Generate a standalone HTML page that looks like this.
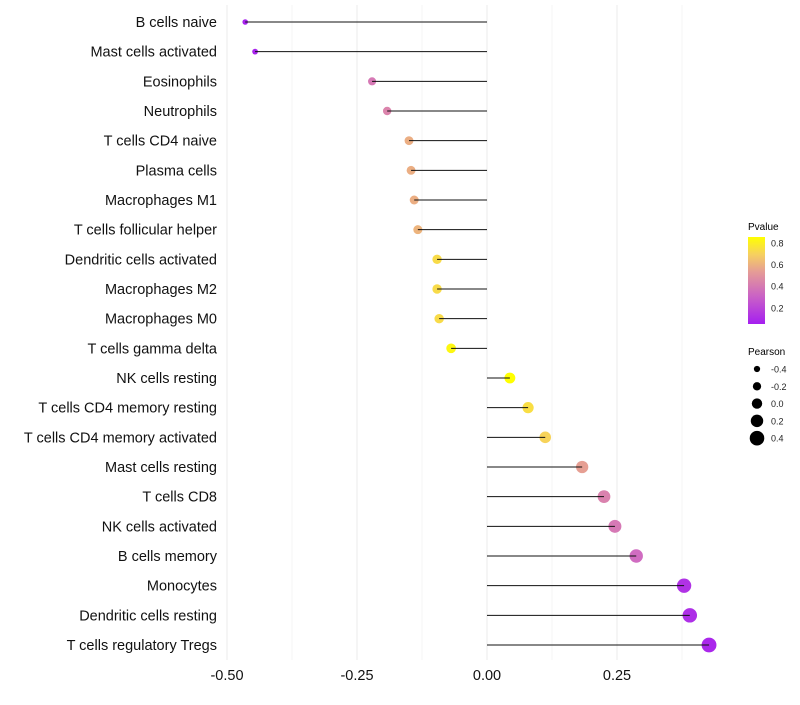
<!DOCTYPE html>
<html><head><meta charset="utf-8"><style>
body{margin:0;background:#fff;}
svg text{font-family:"Liberation Sans",sans-serif;}
</style></head><body>
<svg id="chart" width="800" height="700" xmlns="http://www.w3.org/2000/svg">
<defs><linearGradient id="pg" x1="0" y1="1" x2="0" y2="0">
<stop offset="0" stop-color="#a51ff0"/><stop offset="0.3" stop-color="#c85ec8"/><stop offset="0.6" stop-color="#e59c96"/><stop offset="0.8" stop-color="#f6d060"/><stop offset="1" stop-color="#ffff00"/></linearGradient></defs>
<g id="grid"></g><g id="dots"></g><g id="marks"></g><g id="labels"></g><g id="xticks"></g>
<g>
<text x="748" y="230" font-size="10">Pvalue</text>
<rect x="748" y="237" width="17" height="87" fill="url(#pg)"/>
<g id="cbticks"></g></g>
<g>
<text x="748" y="355" font-size="10">Pearson</text>
<g id="sizeleg"></g></g>
</svg>
<script>
const categories=["B cells naive","Mast cells activated","Eosinophils","Neutrophils","T cells CD4 naive","Plasma cells","Macrophages M1","T cells follicular helper","Dendritic cells activated","Macrophages M2","Macrophages M0","T cells gamma delta","NK cells resting","T cells CD4 memory resting","T cells CD4 memory activated","Mast cells resting","T cells CD8","NK cells activated","B cells memory","Monocytes","Dendritic cells resting","T cells regulatory  Tregs"];
const pearson=[-0.465,-0.446,-0.221,-0.192,-0.150,-0.146,-0.140,-0.133,-0.096,-0.096,-0.092,-0.069,0.044,0.079,0.112,0.183,0.225,0.246,0.287,0.379,0.390,0.427];
const pvalue=[0.04,0.05,0.38,0.43,0.6,0.6,0.6,0.62,0.75,0.75,0.75,0.85,0.88,0.76,0.72,0.55,0.42,0.38,0.32,0.1,0.09,0.06];
const xTicks=[-0.5,-0.25,0,0.25];
const xTickLabels=["-0.50","-0.25","0.00","0.25"];
const cbTicks=[0.2,0.4,0.6,0.8];
const sizeTicks=[-0.4,-0.2,0.0,0.2,0.4];
const sizeTickLabels=["-0.4","-0.2","0.0","0.2","0.4"];
const NS="http://www.w3.org/2000/svg";
const x=v=>487+v*520;
const y=i=>22+i*(623/21);
const r=v=>Math.max(2.2,5.2+5.2*v);
const cy=p=>324-(p-0.05)*108;
function mk(tag,at,parent){const e=document.createElementNS(NS,tag);for(const k in at)e.setAttribute(k,at[k]);document.getElementById(parent).appendChild(e);return e;}
function lerp(a,b,t){return a.map((v,i)=>Math.round(v+(b[i]-v)*t));}
const stops=[[0,[165,31,240]],[0.3,[205,100,200]],[0.6,[229,156,150]],[0.8,[246,208,96]],[1,[255,255,0]]];
function col(p){const t=Math.min(1,Math.max(0,(p-0.03)/0.85));for(let i=1;i<stops.length;i++){if(t<=stops[i][0]){const c=lerp(stops[i-1][1],stops[i][1],(t-stops[i-1][0])/(stops[i][0]-stops[i-1][0]));return`rgb(${c})`;}}return"rgb(255,255,0)";}
for(let v=-0.5;v<=0.4;v+=0.125){const g=mk("line",{x1:x(v),x2:x(v),y1:5,y2:660,stroke:"#ebebeb","stroke-width":Math.abs((v*8)%2)<0.01?1:0.5},"grid");

}
categories.forEach((c,i)=>{
const d=mk("circle",{cx:x(pearson[i]),cy:y(i),r:r(pearson[i]),fill:col(pvalue[i])},"dots");


const l=mk("line",{x1:x(0),x2:x(pearson[i]),y1:y(i),y2:y(i),stroke:"#111","stroke-width":1},"marks");


const t=mk("text",{x:217,y:y(i)+5,"text-anchor":"end","font-size":"14.5",fill:"#111"},"labels");t.textContent=c;

});
xTicks.forEach((v,i)=>{const t=mk("text",{x:x(v),y:680,"text-anchor":"middle","font-size":"14.5",fill:"#111"},"xticks");t.textContent=xTickLabels[i];

});
cbTicks.forEach(p=>{const t=mk("text",{x:771,y:cy(p)+3.5,"font-size":"9",fill:"#222"},"cbticks");t.textContent=p.toFixed(1);

});
sizeTicks.forEach((v,i)=>{const yy=369+i*17.3;const c=mk("circle",{cx:757,cy:yy,r:r(v)},"sizeleg");


const t=mk("text",{x:771,y:yy+3.5,"font-size":"9",fill:"#222"},"sizeleg");t.textContent=sizeTickLabels[i];

});
</script>
</body></html>
